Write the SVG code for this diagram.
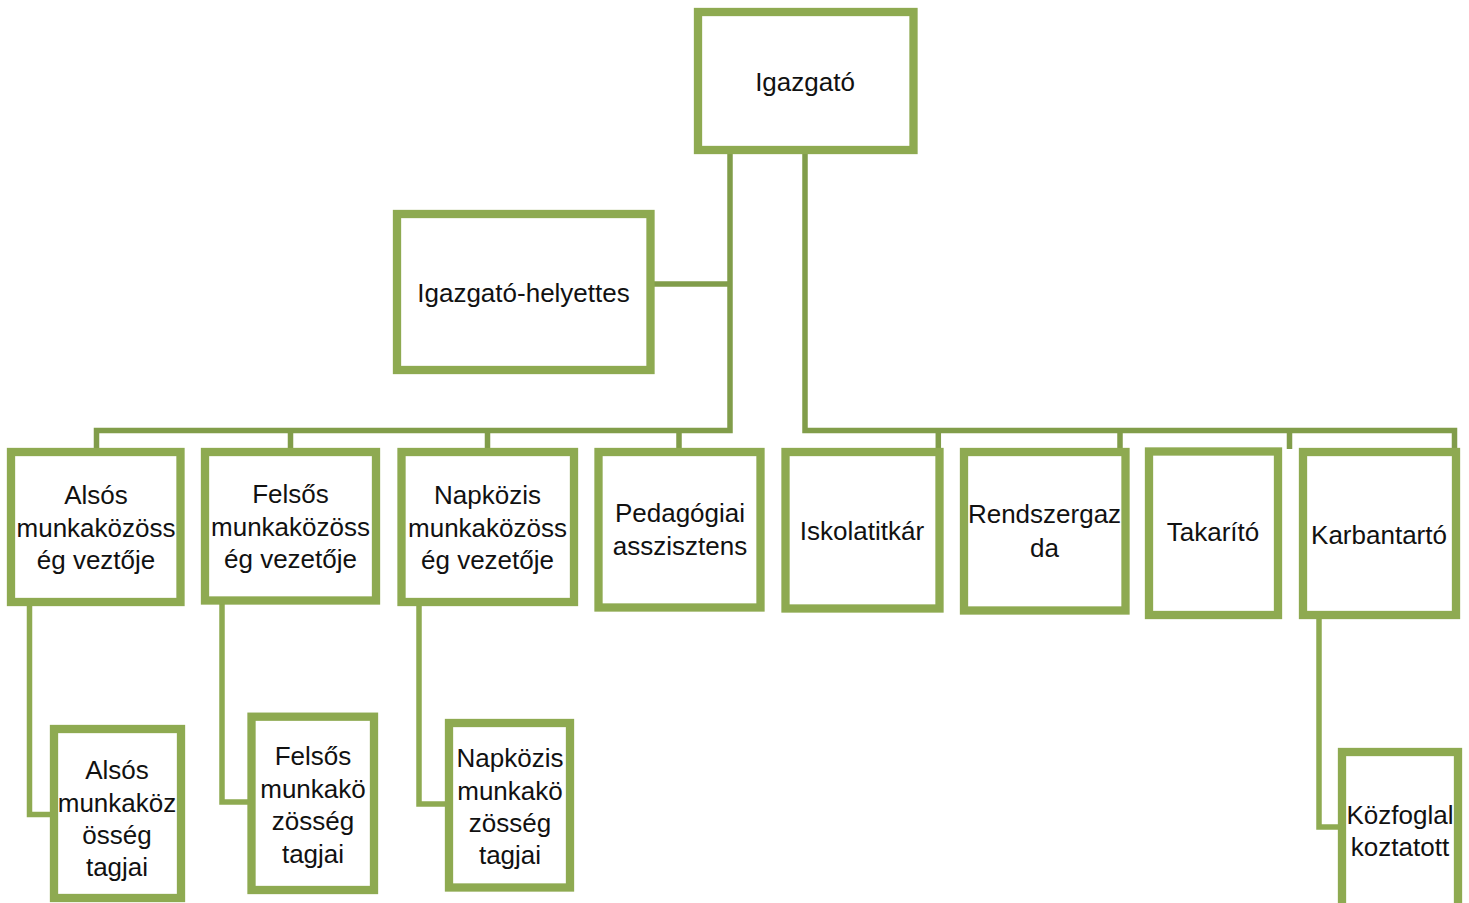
<svg xmlns="http://www.w3.org/2000/svg" width="1469" height="903" viewBox="0 0 1469 903">
<style>
.box{fill:#ffffff;stroke:#8eaa51;stroke-width:8.3}
.con{fill:none;stroke:#819d4a;stroke-width:5.5;stroke-linejoin:miter}
.con2{fill:none;stroke:#8eaa51;stroke-width:5.5;stroke-linejoin:miter}
text{font-family:"Liberation Sans",Arial,sans-serif;font-size:26px;fill:#111111;text-anchor:middle}
</style>
<rect width="1469" height="903" fill="#ffffff"/>
<g id="connectors">
<path class="con" d="M730,154 V430.5 H96.5 V449"/>
<path class="con" d="M654,284 H730"/>
<path class="con" d="M290.5,430.5 V449 M487.5,430.5 V449 M679,430.5 V449"/>
<path class="con" d="M805,154 V430.5 H1454.5 V449"/>
<path class="con" d="M938.3,430.5 V449 M1120,430.5 V449 M1289.5,430.5 V449"/>
<path class="con2" d="M29.5,604 V814.5 H54"/>
<path class="con2" d="M222,602 V802 H251"/>
<path class="con2" d="M419,604 V804 H449"/>
<path class="con2" d="M1319,617 V827 H1342"/>
</g>
<g id="igazgato">
<rect class="box" x="698" y="12" width="215.5" height="138"/>
<text x="805" y="91">Igazgató</text>
</g>
<g id="helyettes">
<rect class="box" x="397" y="214" width="253.5" height="156"/>
<text x="523.5" y="302">Igazgató-helyettes</text>
</g>
<g id="also-vezeto">
<rect class="box" x="11" y="452" width="169.5" height="150"/>
<text x="96" y="503.5">Alsós</text>
<text x="96" y="536.5">munkaközöss</text>
<text x="96" y="569">ég veztője</text>
</g>
<g id="felso-vezeto">
<rect class="box" x="205" y="452" width="171" height="148.5"/>
<text x="290.5" y="502.5">Felsős</text>
<text x="290.5" y="535.5">munkaközöss</text>
<text x="290.5" y="568">ég vezetője</text>
</g>
<g id="napkozis-vezeto">
<rect class="box" x="401.5" y="452" width="172.5" height="150"/>
<text x="487.5" y="503.5">Napközis</text>
<text x="487.5" y="536.5">munkaközöss</text>
<text x="487.5" y="569">ég vezetője</text>
</g>
<g id="pedagogiai">
<rect class="box" x="598.5" y="452" width="162" height="155.5"/>
<text x="680" y="522">Pedagógiai</text>
<text x="680" y="555">asszisztens</text>
</g>
<g id="iskolatitkar">
<rect class="box" x="785.5" y="452" width="154" height="156.5"/>
<text x="862" y="540">Iskolatitkár</text>
</g>
<g id="rendszergazda">
<rect class="box" x="964" y="452" width="161.5" height="158.5"/>
<text x="1044.5" y="523">Rendszergaz</text>
<text x="1044.5" y="556.5">da</text>
</g>
<g id="takarito">
<rect class="box" x="1149" y="451.5" width="129" height="163.5"/>
<text x="1213" y="541">Takarító</text>
</g>
<g id="karbantarto">
<rect class="box" x="1303" y="452" width="153" height="163"/>
<text x="1379" y="543.5">Karbantartó</text>
</g>
<g id="also-tagok">
<rect class="box" x="54" y="729" width="127" height="169"/>
<text x="117" y="778.5">Alsós</text>
<text x="117" y="811.5">munkaköz</text>
<text x="117" y="843.5">össég</text>
<text x="117" y="875.5">tagjai</text>
</g>
<g id="felso-tagok">
<rect class="box" x="251.5" y="716.7" width="122.5" height="173.3"/>
<text x="313" y="765">Felsős</text>
<text x="313" y="797.5">munkakö</text>
<text x="313" y="830">zösség</text>
<text x="313" y="862.5">tagjai</text>
</g>
<g id="napkozis-tagok">
<rect class="box" x="449" y="723" width="121" height="164.5"/>
<text x="510" y="767">Napközis</text>
<text x="510" y="799.5">munkakö</text>
<text x="510" y="832">zösség</text>
<text x="510" y="864">tagjai</text>
</g>
<g id="kozfoglalkoztatott">
<rect class="box" x="1342" y="752" width="116" height="180"/>
<text x="1400" y="823.5">Közfoglal</text>
<text x="1400" y="856">koztatott</text>
</g>
</svg>
